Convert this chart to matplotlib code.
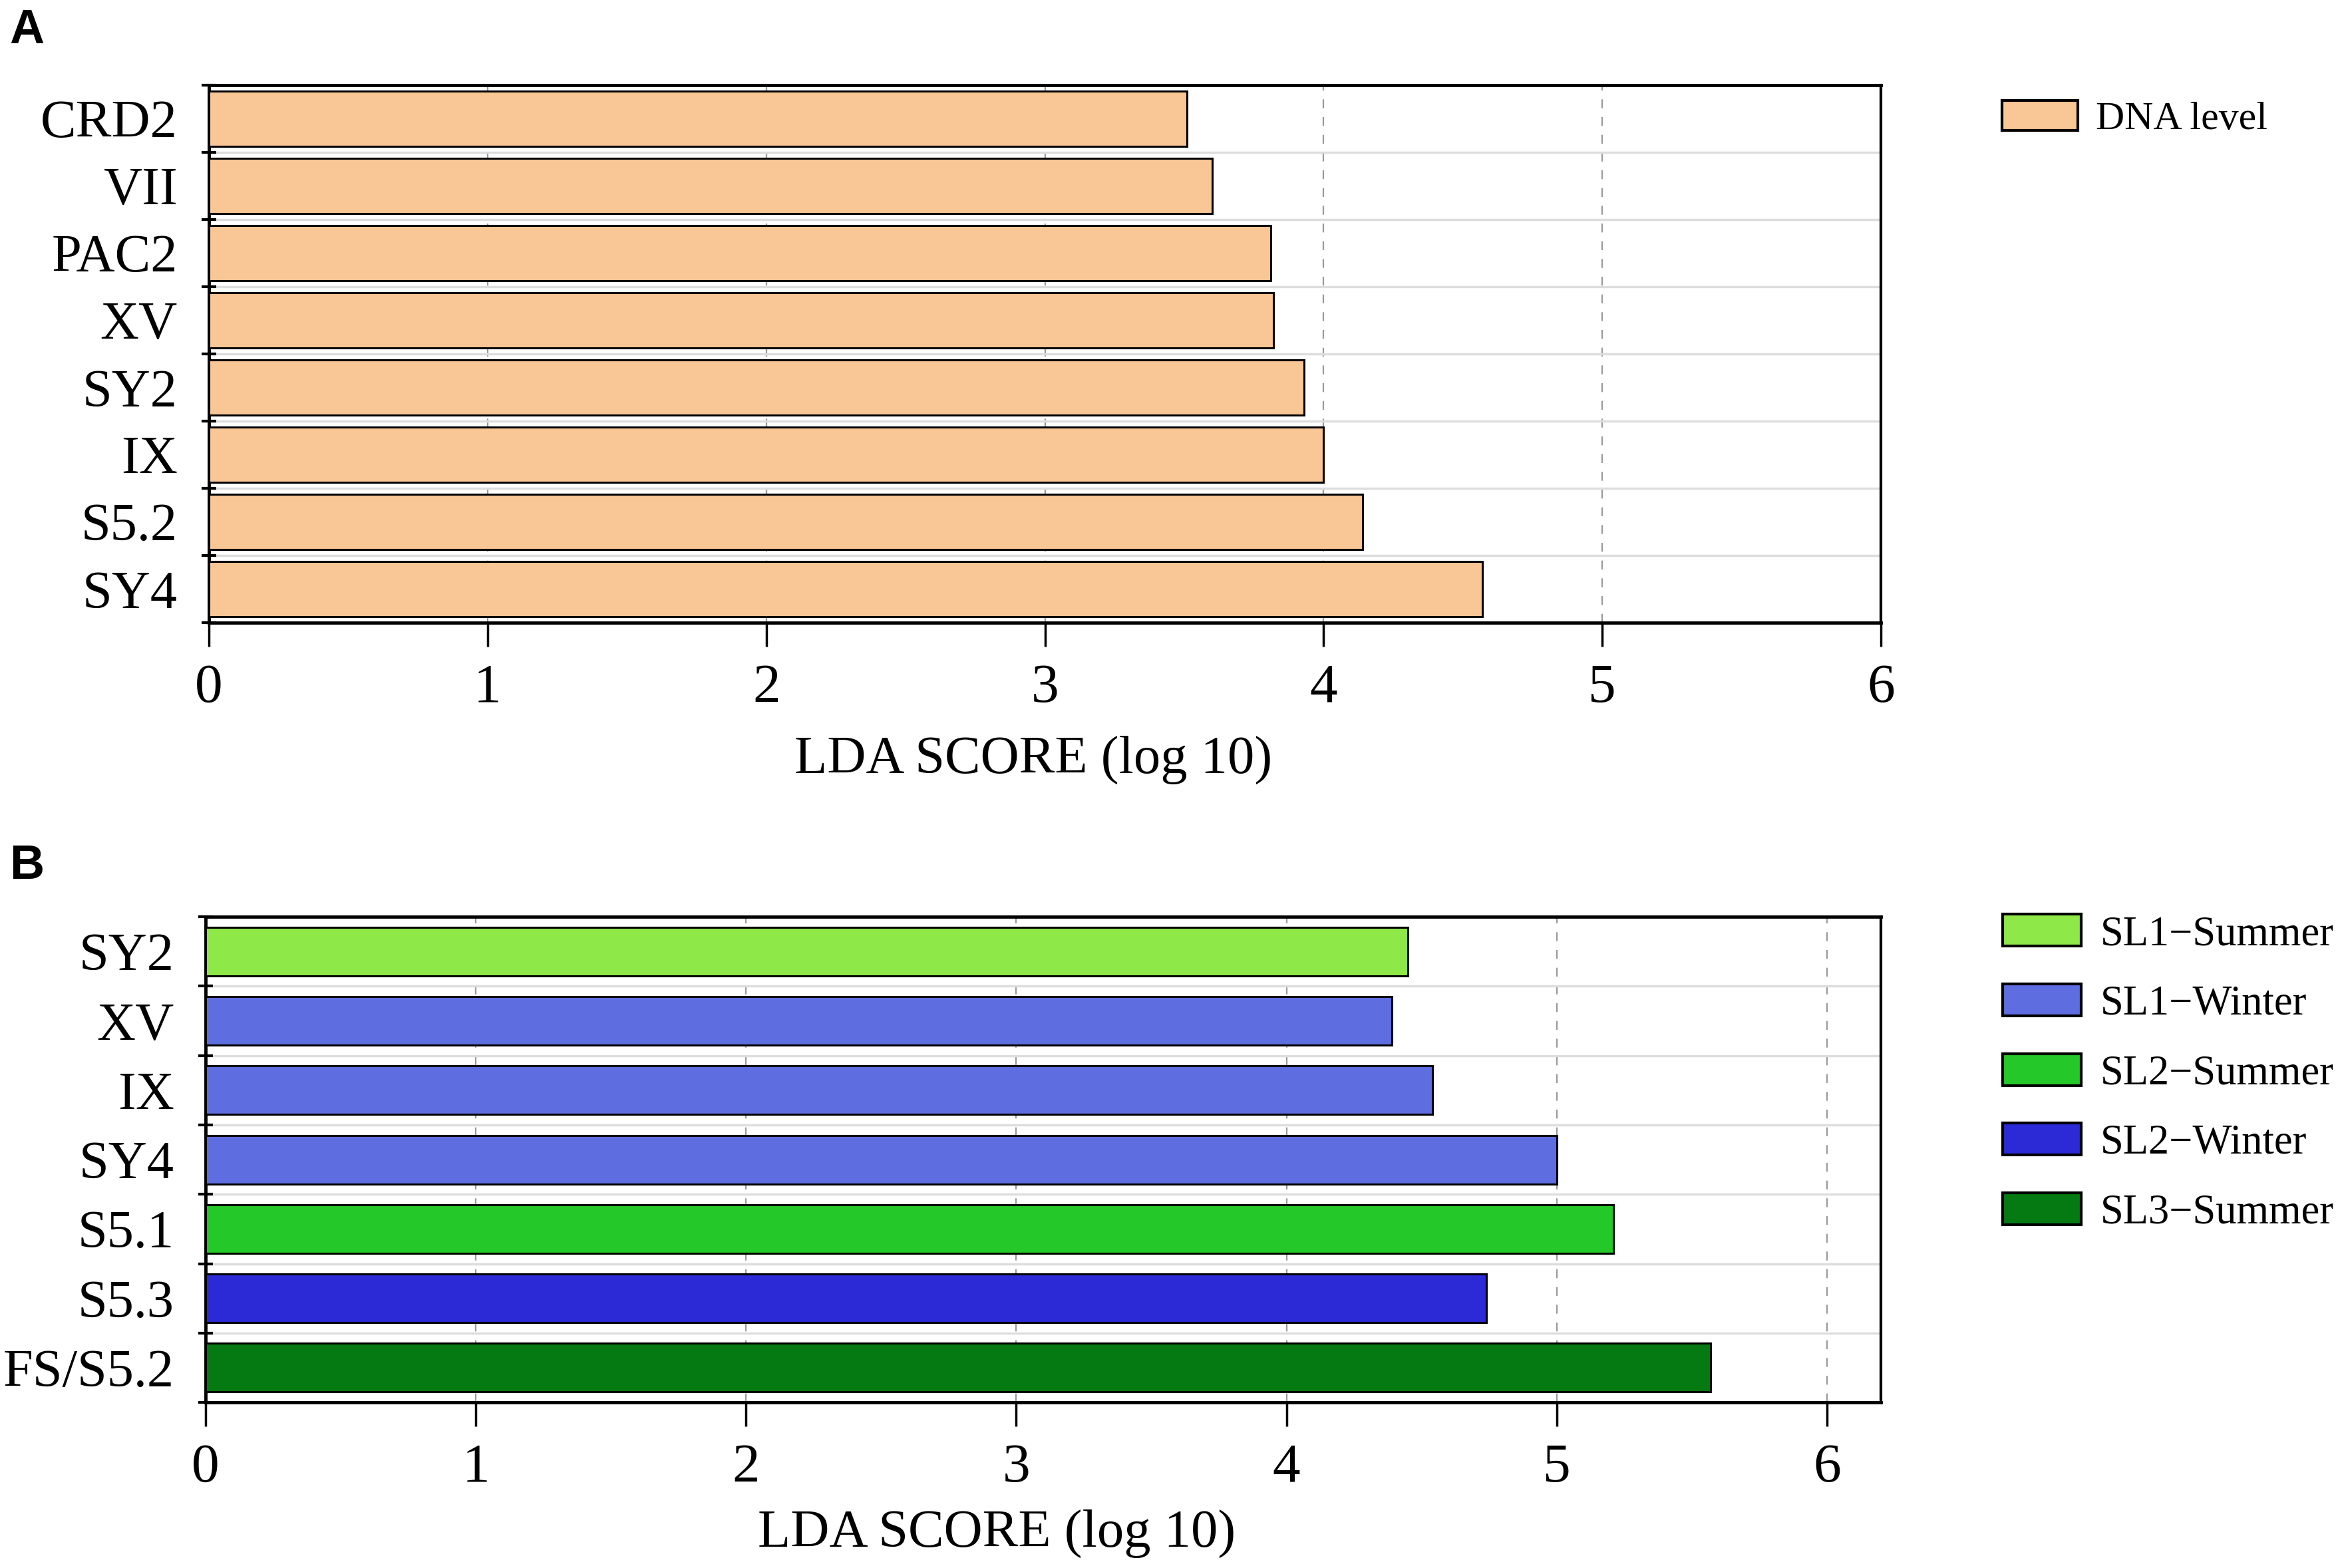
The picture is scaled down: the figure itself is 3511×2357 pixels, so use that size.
import matplotlib
matplotlib.use("Agg")
import matplotlib.pyplot as plt
from matplotlib.patches import Patch

# ---- data ----
cats_a = ["CRD2", "VII", "PAC2", "XV", "SY2", "IX", "S5.2", "SY4"]
vals_a = [3.51, 3.60, 3.81, 3.82, 3.93, 4.00, 4.14, 4.57]
group_a = ["DNA level"] * 8

cats_b = ["SY2", "XV", "IX", "SY4", "S5.1", "S5.3", "FS/S5.2"]
vals_b = [4.45, 4.39, 4.54, 5.00, 5.21, 4.74, 5.57]
group_b = ["SL1\u2212Summer", "SL1\u2212Winter", "SL1\u2212Winter", "SL1\u2212Winter",
           "SL2\u2212Summer", "SL2\u2212Winter", "SL3\u2212Summer"]

legend_b = ["SL1\u2212Summer", "SL1\u2212Winter", "SL2\u2212Summer", "SL2\u2212Winter", "SL3\u2212Summer"]
colors = {
    "DNA level": "#F9C696",
    "SL1\u2212Summer": "#8EE848",
    "SL1\u2212Winter": "#5E6DE0",
    "SL2\u2212Summer": "#24C828",
    "SL2\u2212Winter": "#2C2AD6",
    "SL3\u2212Summer": "#067A12",
}

SERIF = "Liberation Serif"
W, H = 3512, 2357
fig = plt.figure(figsize=(W / 100, H / 100), dpi=100)


def panel(rect, cats, vals, groups, xmax, bar_h, legend_labels, legend_y, legend_size,
          letter, letter_y, xlabel_x, xlabel_y):
    ax = fig.add_axes(rect)
    n = len(cats)
    pos = list(range(n))
    ax.barh(pos, vals, height=bar_h, color=[colors[g] for g in groups],
            edgecolor="black", linewidth=2.2, zorder=3)
    ax.set_ylim(n - 0.5, -0.5)
    ax.set_xlim(0, xmax)
    ax.set_yticks(pos)
    ax.set_yticklabels(cats, fontfamily=SERIF, fontsize=58)
    ax.set_yticks([i + 0.5 for i in range(-1, n)], minor=True)
    ax.tick_params(axis="y", which="major", length=0, pad=34)
    ax.tick_params(axis="y", which="minor", direction="inout", length=16, width=3)
    ax.set_xticks(range(0, 7))
    ax.set_xticklabels([str(i) for i in range(0, 7)], fontfamily=SERIF, fontsize=60)
    ax.tick_params(axis="x", which="major", direction="out", length=26, width=2.5, pad=18)
    ax.grid(axis="y", which="minor", color="#dddddd", linewidth=2.5, zorder=0)
    ax.grid(axis="x", which="major", color="#999999", linestyle=(0, (6, 6)), linewidth=1.6, zorder=0)
    for s in ["top", "bottom", "left", "right"]:
        ax.spines[s].set_linewidth(3.5)
    ax.spines["right"].set_linewidth(3)
    ax.set_xlabel("LDA SCORE (log 10)", fontfamily=SERIF, fontsize=58, labelpad=20)
    ax.xaxis.set_label_coords(xlabel_x, xlabel_y)
    handles = [Patch(facecolor=colors[l], edgecolor="black", linewidth=3, label=l) for l in legend_labels]
    ax.legend(handles=handles, loc="upper left", bbox_to_anchor=(1.0725, legend_y), frameon=False,
              prop={"family": SERIF, "size": legend_size}, handlelength=1.9, handleheight=0.8,
              handletextpad=0.45, labelspacing=0.72, borderaxespad=0, borderpad=0)
    fig.text(0.004, letter_y, letter, fontfamily="Liberation Sans", fontweight="bold",
             fontsize=52, va="top", ha="left")
    return ax


panel([0.0894, 0.6029, 0.7156, 0.3428], cats_a, vals_a, group_a, 6.0, 0.82,
      ["DNA level"], 0.972, 43, "A", 0.995, 0.493, -0.21)
panel([0.0880, 0.1056, 0.7170, 0.3097], cats_b, vals_b, group_b, 6.2, 0.70,
      legend_b, 1.005, 45, "B", 0.462, 0.472, -0.22)

fig.savefig("out.png", dpi=100)
